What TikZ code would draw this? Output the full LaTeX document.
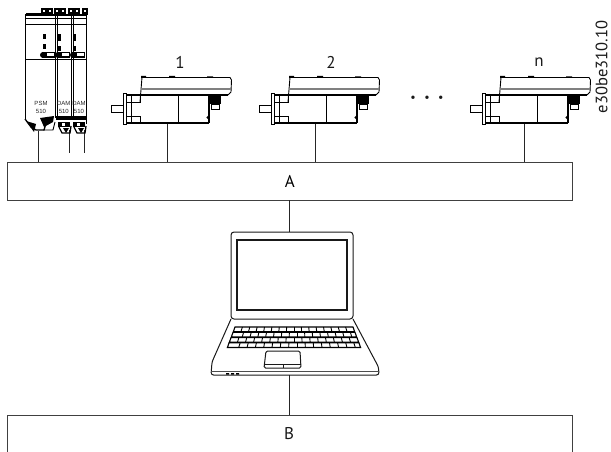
\documentclass[tikz,border=0pt]{standalone}
\usepackage{fontspec}
\setmainfont{PT Sans}
\newfontfamily\armfont{Liberation Sans}
\tikzset{
  boxnode/.style={draw=black!75,line width=.8pt,inner sep=0pt,font=\fontsize{17}{19}\selectfont},
  wire/.style={draw=black!85,line width=.7pt},
  lbl/.style={font=\fontsize{17}{19}\selectfont,inner sep=0pt,text=black!90},
  modlbl/.style={font=\armfont\fontsize{6}{7}\selectfont,inner sep=0pt,text=black!85},
  thick1/.style={line width=1.3pt,black},
  thin1/.style={line width=.9pt,black},
  grey1/.style={line width=1.1pt,black!50},
  motor/.pic={
    \draw[thin1] (0,-3.5) rectangle (-12,3.5);
    \fill[black] (-.5,-16) rectangle (4,16);
    \fill[white] (.9,-15) rectangle (2.7,15);
    \draw[thick1] (4,-14) -- (86,-14) (4,14) -- (86,14);
    \draw[thick1] (86,14) -- (86,-14);
    \draw[thin1] (55,-14) -- (55,14) (8,-14) -- (8,14);
    \draw[thin1] (4,-7) -- (17,-7) -- (17,-14) (4,7) -- (17,7) -- (17,14);
    \draw[thin1] (17,-7) -- (19,-31.5) -- (107,-31.5) -- (108.5,-29) -- (108,-17) -- (105,-14);
    \fill[black] (18,-33) rectangle (23,-31) (46,-33) rectangle (52,-31) (84,-32.5) rectangle (90,-31);
    \draw[grey1] (18.2,-20) -- (108,-20);
    \draw[thick1] (17,-14) -- (105,-14);
    \fill[black] (86,-14) rectangle (98,-5);
    \draw[thin1] (88,-5) rectangle (96,0);
    \fill[black] (85,8.5) circle (1.7);
  }
}
\begin{document}
\begin{tikzpicture}[x=1pt,y=-1pt]
\useasboundingbox (0,0) rectangle (611,452);
\clip (0,0) rectangle (611,452);
% boxes
\node[boxnode,minimum width=565.5pt,minimum height=38pt] (A) at (289.75,181) {A};
\draw[boxnode] (7,452) -- (7,415) -- (572.5,415) -- (572.5,452);
\coordinate (Btop) at (289,415);
\node[lbl] (B) at (289,433.5) {B};
% connectors
\coordinate (psmOut) at (38,131);
\coordinate (m1Out) at (167,123);
\coordinate (m2Out) at (315,123);
\coordinate (mnOut) at (524,123);
\coordinate (lapTop) at (289,232);
\coordinate (lapBot) at (289,375);
\draw[wire] (psmOut) -- (psmOut|-A.north);
\draw[wire] (m1Out) -- (m1Out|-A.north);
\draw[wire] (m2Out) -- (m2Out|-A.north);
\draw[wire] (mnOut) -- (mnOut|-A.north);
\draw[wire] (A.south-|lapTop) -- (lapTop);
\draw[wire] (lapBot) -- (Btop);
\coordinate (d1) at (69.5,130);
\coordinate (d1e) at (69.5,153);
\coordinate (d2) at (84.5,130);
\coordinate (d2e) at (84.5,153);
\draw[line width=1pt,black!85] (d1) -- (d1e) (d2) -- (d2e);
% motors
\pic at (123,109) {motor};
\pic at (271,109) {motor};
\pic at (482,109) {motor};
\node[lbl] (l1) at (180,62) {1};
\node[lbl] (l2) at (331,62) {2};
\node[lbl] (ln) at (539,62) {n};
\node[lbl,font=\fontsize{12}{14}\selectfont] (dots) at (427,99) {•\hspace{8.5pt}•\hspace{8.5pt}•};
% drive
\begin{scope}
\fill[black] (26,13) rectangle (41,15.5);
\foreach \x in {44,50,57,63,71,77,85}{\fill[black] (\x-2.6,8) rectangle (\x+2.6,15);\fill[white] (\x-1,10) rectangle (\x+1,12.5);}
\fill[black] (25,14) rectangle (87,16);
\draw[line width=1pt,black] (25,14) -- (25,119) (86.5,14) -- (86.5,124);
\draw[line width=1.2pt,black] (55.5,14) -- (55.5,118) (71.5,14) -- (71.5,118);
\draw[thin1] (57,16) -- (57,118) (73,16) -- (73,118);
\draw[thin1] (25,18) -- (87,18);
\draw[line width=1pt,black] (25,25) -- (87,25) (25,60) -- (87,60);
\foreach \x/\w in {45/0,60/1,75/1}{
  \fill[black] (\x-2,34) rectangle (\x+.5,39+\w*2);
  \fill[black] (\x-2,44+\w*2) rectangle (\x+.5,49+\w*2);
  \fill[black] (\x-3,52) rectangle (\x+10,58);
  \fill[white] (\x+1.5,53.5) rectangle (\x+9,56.5);
  \fill[black] (\x-2,55) circle (3);
}
\node[modlbl,align=center] (psm) at (41,107.5) {PSM\\[1.5pt]510};
\node[modlbl,align=center] (dam1) at (63.8,107.5) {DAM\\[1.5pt]510};
\node[modlbl,align=center] (dam2) at (79,107.5) {DAM\\[1.5pt]510};
% lower terminals
\draw[thick1] (25,119) -- (31,127) -- (36,130) -- (44,130) -- (47,120);
\fill[black] (26,121) -- (36,124) -- (34,132) -- cycle;
\fill[black] (40,118) -- (54,116) -- (53,122) -- (44,127) -- cycle;
\draw[thin1] (43,130) -- (53,130) -- (55,122);
\foreach \x in {63,78}{
  \fill[black] (\x-7,116) rectangle (\x+8,120);
  \fill[black] (\x-5,122) rectangle (\x+7,127);
  \fill[white] (\x-1,122.5) rectangle (\x+2,126);
  \draw[thick1] (\x-4,127) -- (\x-1,133) -- (\x+7,133) -- (\x+8,126);
  \fill[black] (\x,128) -- (\x+6,128) -- (\x+3,133) -- cycle;
}
\end{scope}
% laptop
\begin{scope}[line width=1pt,black!90]
\draw[rounded corners=3pt] (231,319) -- (231,232) -- (353,232) -- (353,319) -- cycle;
\draw[line width=1.1pt] (237,240) rectangle (347,310);
\draw[rounded corners=2.5pt] (231,319) -- (212,362) -- (211,375) -- (379,375) -- (378.5,367) -- (353,319);
\draw[line width=.7pt,black!70] (211,371.5) -- (379,371.5);
\draw[rounded corners=1.5pt] (266,351) -- (300,351) -- (301,368) -- (264,368) -- cycle;
\draw[line width=.7pt] (264.5,364.5) -- (300.7,364.5) (283,364.5) -- (283,368);
\fill[black] (226,373) rectangle (229,374.5) (231,373) rectangle (234,374.5) (236,373) rectangle (239,374.5);
\end{scope}
\foreach \r in {0,1,2,3}{
  \pgfmathsetmacro{\yt}{327+\r*5.3}
  \pgfmathsetmacro{\yb}{\yt+4.6}
  \pgfmathsetmacro{\xlt}{235-\r*2}
  \pgfmathsetmacro{\xrt}{353+\r*2}
  \pgfmathsetmacro{\xlb}{\xlt-1.6}
  \pgfmathsetmacro{\xrb}{\xrt+1.6}
  \draw[line width=1.1pt,black] (\xlt,\yt) -- (\xrt,\yt) -- (\xrb,\yb) -- (\xlb,\yb) -- cycle;
  \foreach \k in {1,...,15}{
    \pgfmathsetmacro{\off}{mod(\r,2)*3}
    \pgfmathsetmacro{\xa}{\xlt+(\xrt-\xlt)*\k/16+\off}
    \pgfmathsetmacro{\xbb}{\xlb+(\xrb-\xlb)*\k/16+\off}
    \draw[line width=.9pt,black] (\xa,\yt) -- (\xbb,\yb);
  }
}
% reference number
\node[lbl,rotate=90,font=\fontsize{16.5}{18}\selectfont] (ref) at (601.5,67) {e30be310.10};
\end{tikzpicture}
\end{document}
